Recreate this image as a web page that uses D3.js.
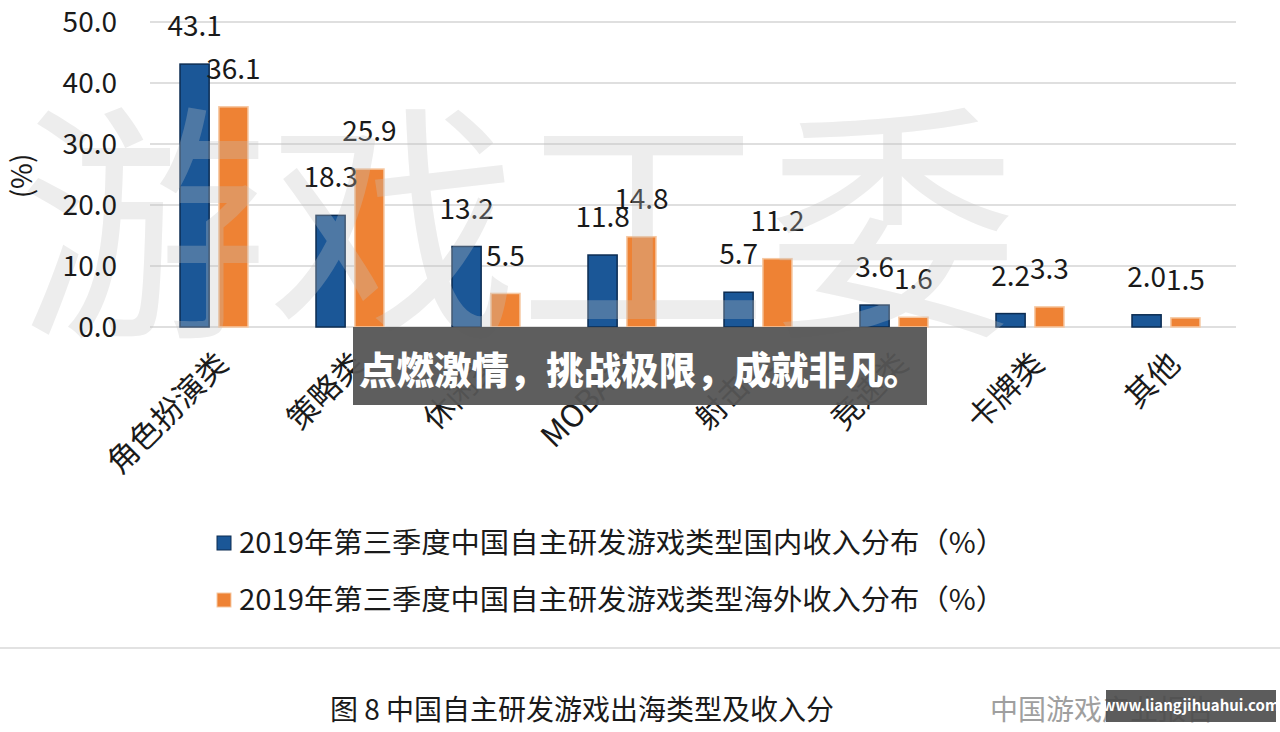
<!DOCTYPE html>
<html><head><meta charset="utf-8">
<script src="https://cdn.jsdelivr.net/npm/d3@7"></script>
<style>html,body{margin:0;padding:0;background:#fff;}svg{display:block;}</style>
</head><body>
<svg id="c" width="1280" height="732"></svg>
<script>
const categories = ["角色扮演类","策略类","休闲类","MOBA类","射击类","竞速类","卡牌类","其他"];
const domestic = [43.1, 18.3, 13.2, 11.8, 5.7, 3.6, 2.2, 2.0];
const overseas = [36.1, 25.9, 5.5, 14.8, 11.2, 1.6, 3.3, 1.5];
const seriesNames = ["2019年第三季度中国自主研发游戏类型国内收入分布（%）","2019年第三季度中国自主研发游戏类型海外收入分布（%）"];
const yTicks = [0, 10, 20, 30, 40, 50];
const colors = ["#1b5797", "#ee8234"];
const strokes = ["#0c2c52", "#f6c9a4"];

const font = "'Noto Sans CJK SC','Noto Sans',sans-serif";
const svg = d3.select("#c");

const y = d3.scaleLinear().domain([0, 50]).range([327, 22]);
const x0 = d3.scaleBand().domain(categories).range([146, 1234]).paddingInner(0.5).paddingOuter(0.25);
const x1 = d3.scaleBand().domain([0, 1]).range([0, x0.bandwidth()]).paddingInner(0.25).paddingOuter(0);

// gridlines
svg.append("g").selectAll("line").data(yTicks).join("line")
  .attr("x1", 150).attr("x2", 1236)
  .attr("y1", d => y(d)).attr("y2", d => y(d))
  .attr("stroke", "#d4d4d4").attr("stroke-width", 1.5);

const data = categories.map((c, i) => ({ c, v: [domestic[i], overseas[i]] }));

const groups = svg.append("g").selectAll("g").data(data).join("g")
  .attr("transform", d => `translate(${x0(d.c)},0)`);

groups.selectAll("rect").data(d => d.v.map((v, s) => ({ v, s }))).join("rect")
  .attr("x", d => x1(d.s)).attr("width", x1.bandwidth())
  .attr("y", d => y(d.v)).attr("height", d => y(0) - y(d.v))
  .attr("fill", d => colors[d.s]).attr("stroke", d => strokes[d.s]).attr("stroke-width", 1.5);

// watermark (faint, behind labels)
svg.append("text").attr("x", 18).attr("y", 318)
  .attr("font-family", font).attr("font-size", 250).attr("font-weight", "normal")
  .attr("fill", "#c4c4c4").attr("opacity", 0.3).text("游戏工委");

// y tick labels
svg.append("g").selectAll("text").data(yTicks).join("text")
  .attr("x", 117).attr("y", d => y(d)).attr("dy", "0.36em")
  .attr("text-anchor", "end").attr("font-family", font).attr("font-size", 28).attr("fill", "#1a1a1a")
  .text(d => d.toFixed(1));

// y title
svg.append("text").attr("transform", "translate(22,176) rotate(-90)")
  .attr("text-anchor", "middle").attr("dy", "0.36em")
  .attr("font-family", font).attr("font-size", 28).attr("fill", "#1a1a1a").text("(%)");

// value labels
groups.selectAll("text").data(d => d.v.map((v, s) => ({ v, s }))).join("text")
  .attr("x", d => x1(d.s) + x1.bandwidth() / 2)
  .attr("y", d => y(d.v) - 38).attr("dy", "0.36em")
  .attr("text-anchor", "middle").attr("font-family", font).attr("font-size", 28).attr("fill", "#1a1a1a")
  .text(d => d.v.toFixed(1));

// category labels
svg.append("g").selectAll("text").data(categories).join("text")
  .attr("transform", d => `translate(${x0(d) + x0.bandwidth() / 2 + 8},358) rotate(-45)`)
  .attr("text-anchor", "end").attr("dy", "0.36em")
  .attr("font-family", font).attr("font-size", 31).attr("fill", "#1a1a1a")
  .text(d => d);

// legend
const leg = svg.append("g").selectAll("g").data(seriesNames).join("g")
  .attr("transform", (d, i) => `translate(217,${543 + i * 57})`);
leg.append("rect").attr("x", 0).attr("y", -7).attr("width", 14).attr("height", 14)
  .attr("fill", (d, i) => colors[i]).attr("stroke", (d, i) => strokes[i]);
leg.append("text").attr("x", 22).attr("dy", "0.36em")
  .attr("font-family", font).attr("font-size", 28).attr("fill", "#1a1a1a")
  .attr("textLength", 766).attr("lengthAdjust", "spacingAndGlyphs")
  .text(d => d);

// separator
svg.append("line").attr("x1", 0).attr("x2", 1280).attr("y1", 648).attr("y2", 648)
  .attr("stroke", "#d9d9d9").attr("stroke-width", 1.5);

// caption
svg.append("text").attr("x", 330).attr("y", 710).attr("dy", "0.36em")
  .attr("font-family", font).attr("font-size", 28).attr("fill", "#1a1a1a")
  .text("图 8 中国自主研发游戏出海类型及收入分");
svg.append("text").attr("x", 990).attr("y", 710).attr("dy", "0.36em")
  .attr("font-family", font).attr("font-size", 28).attr("fill", "#888").attr("opacity", 0.8)
  .text("中国游戏产业报告");

// banner overlay
svg.append("rect").attr("x", 353).attr("y", 327).attr("width", 574).attr("height", 78)
  .attr("fill", "#555555").attr("opacity", 0.95);
svg.append("text").attr("x", 640).attr("y", 370).attr("dy", "0.36em").attr("text-anchor", "middle")
  .attr("font-family", font).attr("font-size", 38).attr("font-weight", "900").attr("fill", "#fff")
  .attr("textLength", 562).attr("lengthAdjust", "spacingAndGlyphs")
  .text("点燃激情，挑战极限，成就非凡。");

// site watermark
svg.append("rect").attr("x", 1106).attr("y", 690).attr("width", 170).attr("height", 32)
  .attr("fill", "#4a4a4a").attr("opacity", 0.9);
svg.append("text").attr("x", 1191).attr("y", 706).attr("dy", "0.36em").attr("text-anchor", "middle")
  .attr("font-family", font).attr("font-size", 15).attr("font-weight", "bold").attr("fill", "#fff")
  .text("www.liangjihuahui.com");
</script>
</body></html>
